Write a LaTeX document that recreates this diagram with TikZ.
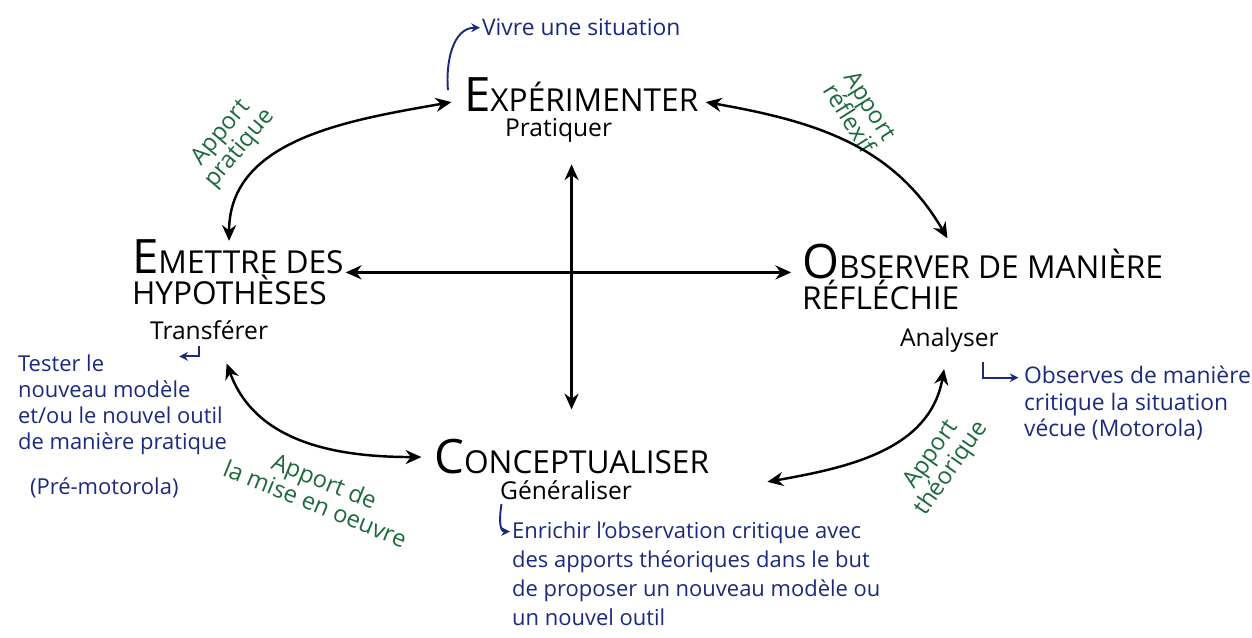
\documentclass[tikz,border=0pt]{standalone}
\usepackage{fontspec}
\setmainfont{Open Sans}
\usetikzlibrary{positioning,arrows.meta}
\definecolor{inkblue}{HTML}{1B2A7E}
\definecolor{inkgreen}{HTML}{1E6A3C}
\newcommand{\bigini}[1]{{\fontsize{27}{30}\selectfont #1}}
\tikzset{
  phase/.style={font=\fontsize{18}{18}\selectfont, anchor=base west, inner sep=1pt, align=left},
  verb/.style={font=\fontsize{14}{15}\selectfont, anchor=base west, inner sep=1pt},
  note/.style={text=inkblue, font=\fontsize{12.5}{16}\selectfont, align=left, anchor=base west, inner sep=1pt},
  apport/.style={text=inkgreen, font=\fontsize{13.5}{14}\selectfont, align=center, inner sep=1pt},
  cyc/.style={draw, line width=1.4pt, {Stealth[length=9pt,width=8pt]}-{Stealth[length=9pt,width=8pt]}},
  hint/.style={draw=inkblue, line width=1.1pt, -{Stealth[length=5pt,width=5pt]}},
}

\begin{document}
\begin{tikzpicture}[x=0.02cm, y=-0.02cm]
	\useasboundingbox (0,0) rectangle (1252,638);

	% the four phases (multi-line nodes sit on their last line)
	\node[phase] (exp) at (462,112) {\bigini{E}XPÉRIMENTER};
	\node[verb] (prat) at (503,137) {Pratiquer};
	\node[note, font=\fontsize{13}{16}\selectfont] (vivre) at (480,36) {Vivre une situation};

	\node[phase] (emet) at (130,305) {\bigini{E}METTRE DES\\HYPOTHÈSES};
	\node[verb] (transf) at (148,340) {Transférer};
	\node[note, font=\fontsize{12.5}{14.8}\selectfont] (tester) at (16,450) {Tester le\\nouveau modèle\\et/ou le nouvel outil\\de manière pratique};
	\node[note] (premot) at (28,495) {(Pré-motorola)};

	\node[phase] (obs) at (800,310) {\bigini{O}BSERVER DE MANIÈRE\\RÉFLÉCHIE};
	\node[verb] (analy) at (898,347) {Analyser};
	\node[note, font=\fontsize{13}{15.3}\selectfont] (observes) at (1022,437) {Observes de manière\\critique la situation\\vécue (Motorola)};

	\node[phase] (concept) at (432,474) {\bigini{C}ONCEPTUALISER};
	\node[verb] (gener) at (498,500) {Généraliser};
	\node[note, font=\fontsize{12.5}{16.5}\selectfont] (enrich) at (510,625) {Enrichir l'observation critique avec\\des apports théoriques dans le but\\de proposer un nouveau modèle ou\\un nouvel outil};

	% apports
	\node[apport, rotate=50] (ap1) at (231,141) {Apport\\pratique};
	\node[apport, rotate=-58] (ap2) at (860,112) {Apport\\réflexif};
	\node[apport, rotate=-22] (ap3) at (320,492) {Apport de\\la mise en oeuvre};
	\node[apport, rotate=55] (ap4) at (942,462) {Apport\\théorique};

	% cycle
	\draw[cyc] ([xshift=-6pt,yshift=-4pt]exp.west) to[out=190,in=90] ([xshift=-5pt,yshift=-2pt]emet.north);
	\draw[cyc] ([xshift=3pt,yshift=-4pt]exp.east) to[out=-10,in=120] ([xshift=-20pt,yshift=2pt]obs.north);
	\draw[cyc] ([xshift=-3pt,yshift=-8pt]analy.south) to[out=-100,in=10] ([xshift=32pt,yshift=-3pt]concept.south east);
	\draw[cyc] ([xshift=10pt,yshift=-12pt]transf.south) to[out=-70,in=180] ([xshift=-6pt]concept.west);

	% cross
	\draw[cyc, shorten >=5pt] (emet.east) -- (emet.east -| obs.west);
	\draw[cyc, shorten <=11pt, shorten >=16pt] (concept.north |- prat.south) -- (concept.north);

	% small pointers
	\draw[hint] ([xshift=-8pt,yshift=-8pt]exp.north west) to[out=95,in=180] (vivre.west);
	\draw[hint] ([xshift=-6pt,yshift=-2pt]transf.south) -- ++(0,-6pt) -- ++(-11pt,0);
	\draw[hint] ([xshift=-10pt,yshift=-4pt]analy.south east) |- ([xshift=-2pt,yshift=-8pt]observes.north west);
	\draw[hint] ([xshift=2pt,yshift=-1pt]gener.south west) to[out=-100,in=180] ([yshift=-7pt]enrich.north west);
\end{tikzpicture}
\end{document}
